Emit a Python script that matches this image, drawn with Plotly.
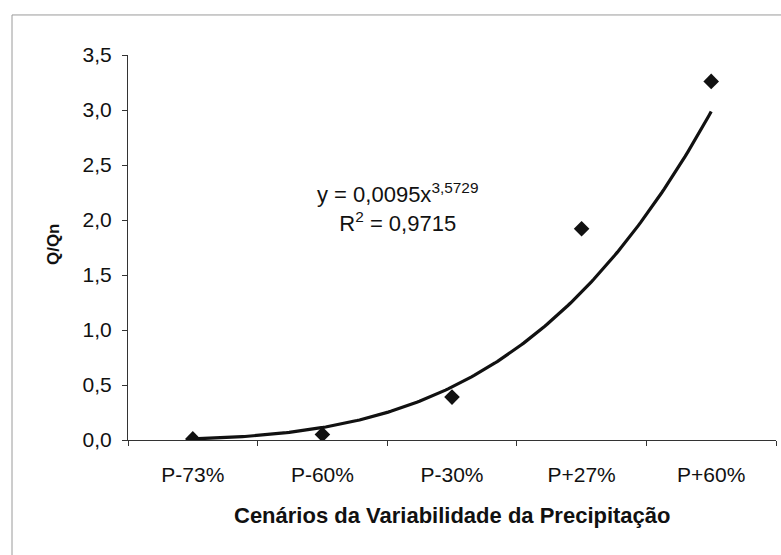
import numpy as np
import plotly.graph_objects as go

# Scenario categories and observed Q/Qn ratios
cenarios = ["P-73%", "P-60%", "P-30%", "P+27%", "P+60%"]
q_qn = [0.01, 0.05, 0.39, 1.92, 3.26]

# Power trendline y = a * x^b (x = scenario index starting at 1)
coef_a = 0.0095
coef_b = 3.5729
r2 = 0.9715

y_ticks = [0.0, 0.5, 1.0, 1.5, 2.0, 2.5, 3.0, 3.5]

FONT = "Liberation Sans, Arial, sans-serif"

pos = list(range(len(cenarios)))
xs = np.linspace(1, len(cenarios), 200)
ys = coef_a * xs ** coef_b

fig = go.Figure()

fig.add_trace(go.Scatter(
    x=xs - 1, y=ys, mode="lines",
    line=dict(color="#111111", width=3.2),
    hoverinfo="skip", showlegend=False,
))

fig.add_trace(go.Scatter(
    x=pos, y=q_qn, mode="markers",
    marker=dict(symbol="diamond", size=12, color="#111111"),
    showlegend=False,
))

def fmt(v, nd):
    return f"{v:.{nd}f}".replace(".", ",")

eq_text = (f"y = {fmt(coef_a, 4)}x<sup>{fmt(coef_b, 4)}</sup><br>"
           f"R<sup>2</sup> = {fmt(r2, 4)}")

annotations = [
    dict(text=eq_text, x=0.416, y=0.603, xref="paper", yref="paper",
         showarrow=False, xanchor="center", yanchor="middle", align="center",
         font=dict(family=FONT, size=22, color="#111111")),
    dict(text="<b>Cenários da Variabilidade da Precipitação</b>",
         x=0.5, y=-0.197, xref="paper", yref="paper",
         showarrow=False, xanchor="center", yanchor="middle",
         font=dict(family=FONT, size=22, color="#111111")),
    dict(text="<b>Q/Qn</b>", x=-0.1157, y=0.509, xref="paper", yref="paper",
         showarrow=False, textangle=-90, xanchor="center", yanchor="middle",
         font=dict(family=FONT, size=17, color="#111111")),
]

fig.update_layout(
    width=781, height=555,
    margin=dict(l=128, r=5, t=55, b=115),
    paper_bgcolor="white", plot_bgcolor="white",
    separators=",.",
    annotations=annotations,
    shapes=[dict(type="rect", xref="paper", yref="paper",
                 x0=-0.179, y0=-0.6, x1=1.2, y1=1.104,
                 line=dict(color="#9a9a9a", width=1))],
    xaxis=dict(
        range=[-0.5, len(cenarios) - 0.5],
        tickvals=pos, ticktext=cenarios,
        ticks="", showgrid=False, zeroline=False,
        showline=True, linecolor="#333333", linewidth=1,
        ticklabelstandoff=16,
        tickfont=dict(family=FONT, size=21, color="#111111"),
        minor=dict(tickvals=[p - 0.5 for p in pos] + [len(cenarios) - 0.5],
                   ticks="outside", ticklen=5, tickcolor="#333333"),
    ),
    yaxis=dict(
        range=[0, 3.5], tickvals=y_ticks, tickformat=".1f",
        ticks="outside", ticklen=5, tickcolor="#333333",
        showgrid=False, zeroline=False,
        showline=True, linecolor="#333333", linewidth=1,
        ticklabelstandoff=6,
        tickfont=dict(family=FONT, size=21, color="#111111"),
    ),
)

fig.write_html("out.html")
